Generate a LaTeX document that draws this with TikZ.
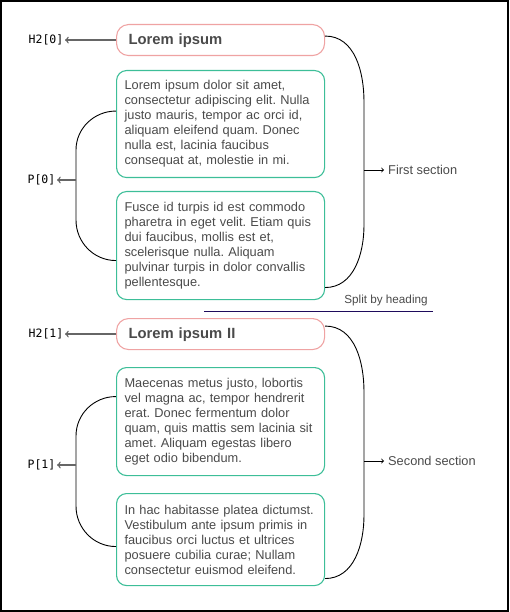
\documentclass[tikz,border=0pt]{standalone}
\usepackage{fontspec}
\setmainfont{Liberation Sans}
\newfontfamily\tagfont{DejaVu Sans Mono}
\usetikzlibrary{positioning}
\definecolor{headpink}{HTML}{EFA3A3}
\definecolor{paragreen}{HTML}{3DBE98}
\definecolor{bodygray}{HTML}{4A4A4A}
\definecolor{splitnavy}{HTML}{1E0B5C}
\frenchspacing
\begin{document}
\begin{tikzpicture}[
    x=1pt, y=-1pt,
    heading/.style={rectangle, draw=headpink, line width=1.1pt, rounded corners=12pt, anchor=north west, text width=184pt, inner xsep=12pt, align=left, minimum height=31pt, text depth=2pt, text=bodygray, font=\fontsize{14.8}{17}\selectfont\bfseries},
    para/.style={rectangle, draw=paragreen, line width=1.1pt, rounded corners=10pt, anchor=north west, text width=192pt, inner xsep=8pt, align=left, text=bodygray, font=\fontsize{12.8}{15}\selectfont},
    tagtext/.style={inner sep=1.5pt, font=\tagfont\fontsize{11.5}{13}\selectfont},
    secname/.style={inner xsep=4pt, inner ysep=1pt, text=bodygray, font=\fontsize{12.8}{15}\selectfont},
    tagarrow/.style={->, draw=black!60, line width=1.4pt},
    bracket/.style={draw=black, line width=0.9pt},
    secarrow/.style={->, draw=black, line width=0.9pt}
]
    \useasboundingbox (0,0) rectangle (509,612);
    \draw [line width=1.5pt] (1,1) rectangle (508,611);

    % First section
    \node [heading] (h0) at (116,24) {Lorem ipsum};
    \node [para, minimum height=107pt] (p0) at (116,70) {Lorem ipsum dolor sit amet,\\consectetur adipiscing elit. Nulla\\justo mauris, tempor ac orci id,\\aliquam eleifend quam. Donec\\nulla est, lacinia faucibus\\consequat at, molestie in mi.};
    \node [para, minimum height=108pt] (p1) at (116,191) {Fusce id turpis id est commodo\\pharetra in eget velit. Etiam quis\\dui faucibus, mollis est et,\\scelerisque nulla. Aliquam\\pulvinar turpis in dolor convallis\\pellentesque.};

    % Split
    \node [text=bodygray, font=\fontsize{11.7}{14}\selectfont] (split) at (386,300) {Split by heading};
    \draw [splitnavy, line width=1pt] (204,311) -- (433,311);

    % Second section
    \node [heading] (h1) at (116,318) {Lorem ipsum II};
    \node [para, minimum height=108pt] (p2) at (116,367) {Maecenas metus justo, lobortis\\vel magna ac, tempor hendrerit\\erat. Donec fermentum dolor\\quam, quis mattis sem lacinia sit\\amet. Aliquam egestas libero\\eget odio bibendum.};
    \node [para, minimum height=92pt] (p3) at (116,493) {In hac habitasse platea dictumst.\\Vestibulum ante ipsum primis in\\faucibus orci luctus et ultrices\\posuere cubilia curae; Nullam\\consectetur euismod eleifend.};

    % Brackets
    \coordinate (b0) at (76,180);
    \coordinate (b1) at (76,465);
    \coordinate (s0) at (364,170);
    \coordinate (s1) at (364,461);
    \draw [bracket] ([yshift=13pt]p0.west) to[out=180,in=90] (76,150) -- (76,220) to[out=-90,in=180] ([yshift=-15pt]p1.west);
    \draw [bracket] ([yshift=25pt]p2.west) to[out=180,in=90] (76,436) -- (76,506) to[out=-90,in=180] ([yshift=-7pt]p3.west);
    \draw [bracket] ([yshift=4pt]h0.east) to[out=0,in=90] (364,102) -- (364,225) to[out=-90,in=0] ([yshift=-42pt]p1.east);
    \draw [bracket] ([yshift=8pt]h1.east) to[out=0,in=90] (364,392) -- (364,515) to[out=-90,in=0] ([yshift=-39pt]p3.east);

    % Labels
    \node [tagtext, left=51pt of h0] (h0tag) {H2[0]};
    \node [tagtext, left=51pt of h1] (h1tag) {H2[1]};
    \node [tagtext, left=19pt of b0] (p0tag) {P[0]};
    \node [tagtext, left=19pt of b1] (p1tag) {P[1]};
    \node [secname, right=20pt of s0] (sec0) {First section};
    \node [secname, right=20pt of s1] (sec1) {Second section};

    % Arrows
    \draw [tagarrow] (h0) -- (h0tag);
    \draw [tagarrow] (h1) -- (h1tag);
    \draw [tagarrow] (b0) -- (p0tag);
    \draw [tagarrow] (b1) -- (p1tag);
    \draw [secarrow] (s0) -- (sec0);
    \draw [secarrow] (s1) -- (sec1);
\end{tikzpicture}
\end{document}
